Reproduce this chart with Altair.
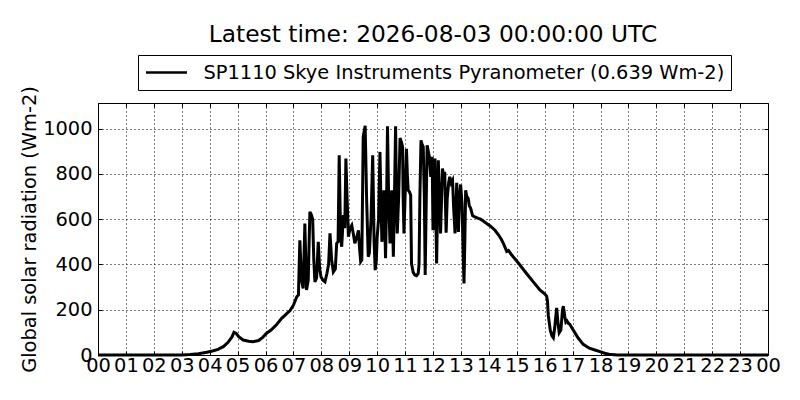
import altair as alt
import pandas as pd

title_text = "Latest time: 2026-08-03 00:00:00 UTC"
series_name = "SP1110 Skye Instruments Pyranometer (0.639 Wm-2)"
y_title = "Global solar radiation (Wm-2)"

x_ticks = list(range(0, 25))
y_ticks = [0, 200, 400, 600, 800, 1000]

hours = [
    0, 1, 2, 3.0, 3.3, 3.6, 3.9, 4.1, 4.3, 4.5, 4.65, 4.8, 4.87, 4.95, 5.05, 5.2,
    5.4, 5.56, 5.75, 5.9, 6.04, 6.2, 6.4, 6.58, 6.75, 6.88, 7.0, 7.12, 7.18,
    7.23, 7.29, 7.35, 7.41, 7.47, 7.53, 7.59, 7.64, 7.69, 7.73, 7.77, 7.83, 7.89,
    7.94, 7.99, 8.06, 8.13, 8.2, 8.26, 8.31, 8.37, 8.43, 8.5, 8.55, 8.6, 8.64,
    8.69, 8.73, 8.79, 8.84, 8.88, 8.92, 8.97, 9.03, 9.09, 9.14, 9.2, 9.27, 9.33,
    9.37, 9.41, 9.45, 9.5, 9.57, 9.62, 9.68, 9.72, 9.78, 9.84, 9.89, 9.93, 9.97,
    10.0, 10.05, 10.1, 10.14, 10.17, 10.21, 10.24, 10.27, 10.3, 10.34, 10.37,
    10.41, 10.46, 10.49, 10.52, 10.55, 10.58, 10.62, 10.66, 10.69, 10.72, 10.77,
    10.82, 10.87, 10.91, 10.93, 10.96, 11.0, 11.05, 11.08, 11.11, 11.16, 11.2,
    11.23, 11.29, 11.35, 11.41, 11.47, 11.5, 11.53, 11.57, 11.61, 11.65, 11.69,
    11.72, 11.76, 11.79, 11.83, 11.87, 11.92, 11.97, 12.0, 12.04, 12.07, 12.13,
    12.19, 12.23, 12.27, 12.31, 12.34, 12.38, 12.42, 12.47, 12.51, 12.56, 12.6,
    12.65, 12.7, 12.74, 12.79, 12.85, 12.88, 12.91, 12.95, 12.99, 13.04, 13.08,
    13.11, 13.14, 13.17, 13.21, 13.26, 13.3, 13.35, 13.42, 13.5, 13.6, 13.7,
    13.8, 13.92, 14.05, 14.22, 14.35, 14.45, 14.52, 14.6, 14.64, 14.7, 14.8,
    14.87, 15.0, 15.35, 15.6, 15.83, 16.0, 16.07, 16.1, 16.13, 16.2, 16.26,
    16.31, 16.36, 16.43, 16.47, 16.52, 16.58, 16.64, 16.67, 16.72, 16.76, 16.8,
    16.85, 16.9, 17.0, 17.2, 17.38, 17.6, 17.8, 17.98, 18.15, 18.3, 18.6, 19,
    20, 21, 22, 23, 24,
]

values = [
    0, 0, 0, 0, 2, 6, 12, 18, 25, 38, 55, 80, 100, 95, 80, 66,
    61, 59, 64, 78, 96, 110, 135, 162, 182, 196, 220, 257, 265,
    507, 330, 294, 581, 287, 330, 632, 620, 600, 420, 323, 340, 500,
    380, 345, 330, 323, 360, 400, 537, 420, 367, 380, 493, 500, 882,
    520, 478, 618, 560, 868, 700, 522, 560, 573, 540, 493, 520, 551,
    470, 412, 420, 963, 1012, 700, 434, 450, 600, 882, 500, 375, 420,
    522, 600, 897, 650, 500, 560, 728, 600, 427, 700, 1010,
    700, 493, 600, 728, 600, 434, 700, 1010, 700, 537, 700,
    958, 940, 919, 700, 537, 700, 911, 800, 728, 720, 706,
    404, 365, 353, 350, 360, 400, 698, 948, 930, 919, 700,
    353, 700, 926, 900, 875, 787, 875, 551, 700, 868, 404,
    860, 700, 537, 700, 824, 790, 809, 540, 692, 760, 787,
    760, 772, 650, 537, 761, 650, 544, 700, 753, 669, 450,
    316, 500, 728, 700, 692, 660, 648, 615, 610, 605, 600,
    592, 581, 570, 551, 530, 510, 493, 470, 458, 462, 445,
    434, 415, 360, 322, 287, 270, 260, 240, 175, 110, 85,
    76, 120, 208, 150, 98, 110, 200, 216, 170, 145, 150,
    140, 136, 115, 75, 47, 30, 22, 15, 8, 3, 0, 0,
    0, 0, 0, 0, 0,
]

df = pd.DataFrame({"hour": hours, "value": values, "series": series_name})

FONT = "DejaVu Sans"
FS = 19.4

x_scale = alt.Scale(domain=[0, 24], nice=False, zero=False)
y_scale = alt.Scale(domain=[0, 1113], nice=False)

label_expr = "datum.value == 24 ? '00' : (datum.value < 10 ? '0' + datum.value : '' + datum.value)"

base = alt.Chart(df)

line = base.mark_line(strokeWidth=3, color="black").encode(
    x=alt.X(
        "hour:Q",
        scale=x_scale,
        axis=alt.Axis(
            values=x_ticks, labelExpr=label_expr, grid=True, gridDash=[1, 3],
            gridColor="black", gridWidth=1, domain=False, tickSize=4, offset=-4,
            tickColor="black", labelPadding=1, labelFlush=False, labelOverlap=False,
            labelFontSize=FS, labelFont=FONT, labelColor="black", title=None,
        ),
    ),
    y=alt.Y(
        "value:Q",
        scale=y_scale,
        axis=alt.Axis(
            values=y_ticks, format="d", grid=True, gridDash=[1, 3], gridColor="black",
            gridWidth=1, domain=False, tickSize=4, offset=-4, tickColor="black",
            labelPadding=6, labelFontSize=FS, labelFont=FONT, labelColor="black",
            labelOverlap=False, title=y_title, titleFontSize=FS, titleFont=FONT,
            titleFontWeight="normal", titleColor="black", titlePadding=3,
        ),
    ),
    color=alt.Color(
        "series:N",
        scale=alt.Scale(range=["black"]),
        legend=alt.Legend(
            title=None, orient="none", legendX=40, legendY=-48, symbolType="stroke",
            symbolSize=1681, symbolStrokeWidth=2.5, symbolStrokeColor="black",
            clipHeight=22, labelOffset=15, padding=6.5, strokeColor="black",
            fillColor="white", labelFontSize=FS, labelFont=FONT, labelColor="black",
            labelLimit=0,
        ),
    ),
)

frame = base.mark_line(opacity=0).encode(
    x=alt.X(
        "hour:Q",
        scale=x_scale,
        axis=alt.Axis(orient="top", values=x_ticks, labels=False, grid=False,
                      domain=False, tickSize=4, offset=-4, tickColor="black", title=None),
    ),
    y=alt.Y(
        "value:Q",
        scale=y_scale,
        axis=alt.Axis(orient="right", values=y_ticks, labels=False, grid=False,
                      domain=False, tickSize=4, offset=-4, tickColor="black", title=None),
    ),
)

chart = (
    alt.layer(line, frame)
    .resolve_axis(x="independent", y="independent")
    .properties(
        width=670,
        height=252,
        autosize=alt.AutoSizeParams(type="none"),
        padding={"left": 90, "top": 95, "right": 24, "bottom": 37},
        background="white",
        title=alt.TitleParams(
            text=title_text, fontSize=23.3, font=FONT, fontWeight="normal",
            color="black", anchor="middle", frame="group", offset=7,
        ),
    )
    .configure_view(stroke="black", strokeWidth=1)
    .configure_legend(strokeWidth=1)
)

chart.save("out.html", embed_options={"renderer": "svg", "actions": False})
